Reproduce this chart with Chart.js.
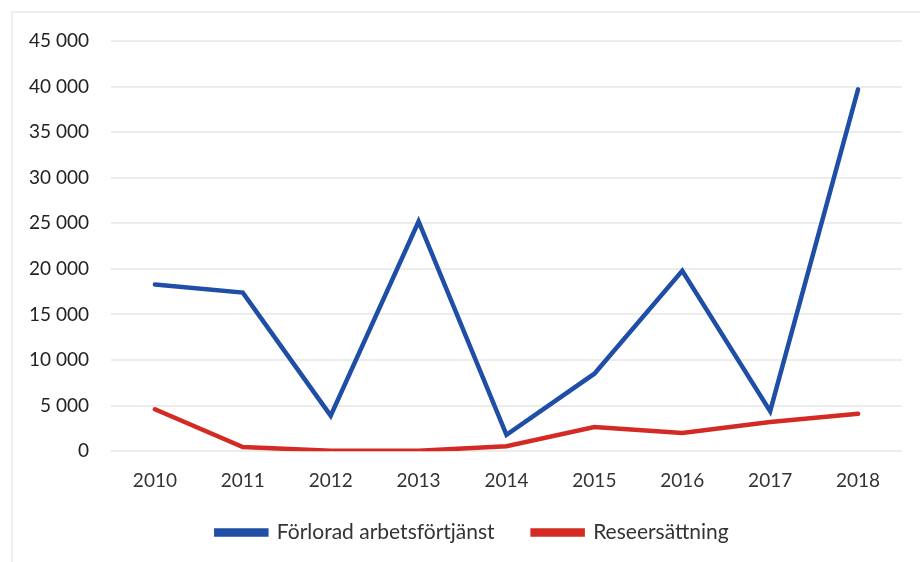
<!DOCTYPE html>
<html>
<head>
<meta charset="utf-8">
<script src="https://cdn.jsdelivr.net/npm/chart.js@4"></script>
<style>
  html, body { margin: 0; padding: 0; background: #fff; }
  #wrap { position: absolute; left: 0; top: 0; width: 920px; height: 562px; }
  #frame { position: absolute; left: 11px; top: 11px; width: 920px; height: 560px; border-left: 2px solid #eeeeee; border-top: 2px solid #eeeeee; box-sizing: border-box; }
  canvas { position: absolute; left: 0; top: 0; }
</style>
</head>
<body>
<div id="wrap">
  <div id="frame"></div>
  <canvas id="c" width="920" height="562"></canvas>
</div>
<script>
const years = ['2010','2011','2012','2013','2014','2015','2016','2017','2018'];
const lostIncome = [18300, 17400, 3900, 25200, 1800, 8500, 19800, 4400, 39700];
const travelComp = [4600, 450, 50, 50, 550, 2650, 2000, 3200, 4100];
const seriesNames = ['Förlorad arbetsförtjänst', 'Reseersättning'];
const yTicksMax = 45000;
const yTickStep = 5000;

const blue = '#1f4ea6';
const red = '#d42a24';

const LEGEND_PAD = 38;
const LEGEND_TRIM = 27;
const LEGEND_SHIFT_Y = 26;
const LEGEND_SHIFT_X = 18;

// Legend uses a wide horizontal gap between items but a tighter vertical gap.
const legendTighten = {
  id: 'legendTighten',
  beforeLayout(chart) {
    const L = chart.legend;
    if (L && !L._tightened) {
      const fit = L.fit.bind(L);
      L.fit = function () { fit(); this.height -= LEGEND_TRIM; };
      L.draw = function () {
        if (!this.options.display) return;
        const t = this.top, l = this.left, r = this.right;
        this.top = t - LEGEND_SHIFT_Y;
        this.left = l + LEGEND_SHIFT_X;
        this.right = r + LEGEND_SHIFT_X;
        this._draw();
        this.top = t; this.left = l; this.right = r;
      };
      L._tightened = true;
    }
  }
};

new Chart(document.getElementById('c'), {
  type: 'line',
  data: {
    labels: years,
    datasets: [
      { label: seriesNames[0], data: lostIncome, borderColor: blue, backgroundColor: blue,
        borderWidth: 4.5, pointRadius: 0, tension: 0, borderCapStyle: 'round', borderJoinStyle: 'miter' },
      { label: seriesNames[1], data: travelComp, borderColor: red, backgroundColor: red,
        borderWidth: 4.5, pointRadius: 0, tension: 0, borderCapStyle: 'round' }
    ]
  },
  plugins: [legendTighten],
  options: {
    responsive: false,
    animation: false,
    layout: { padding: { left: 7, right: 18, top: 41, bottom: 10 } },
    plugins: {
      legend: {
        position: 'bottom',
        labels: {
          font: { family: 'Lato', size: 21 },
          color: '#333333',
          boxWidth: 50,
          boxHeight: 4,
          padding: LEGEND_PAD
        }
      },
      tooltip: { enabled: false }
    },
    scales: {
      x: {
        offset: true,
        grid: { display: false, drawTicks: false },
        border: { display: false },
        ticks: { font: { family: 'Lato', size: 19 }, color: '#333333', padding: 18 }
      },
      y: {
        min: 0, max: yTicksMax,
        grid: { color: '#ececec', lineWidth: 2, drawTicks: false },
        border: { display: false },
        ticks: {
          stepSize: yTickStep,
          font: { family: 'Lato', size: 19 },
          color: '#222222',
          padding: 22,
          callback: v => String(v).replace(/\B(?=(\d{3})+(?!\d))/g, ' ')
        }
      }
    }
  }
});
</script>
</body>
</html>
